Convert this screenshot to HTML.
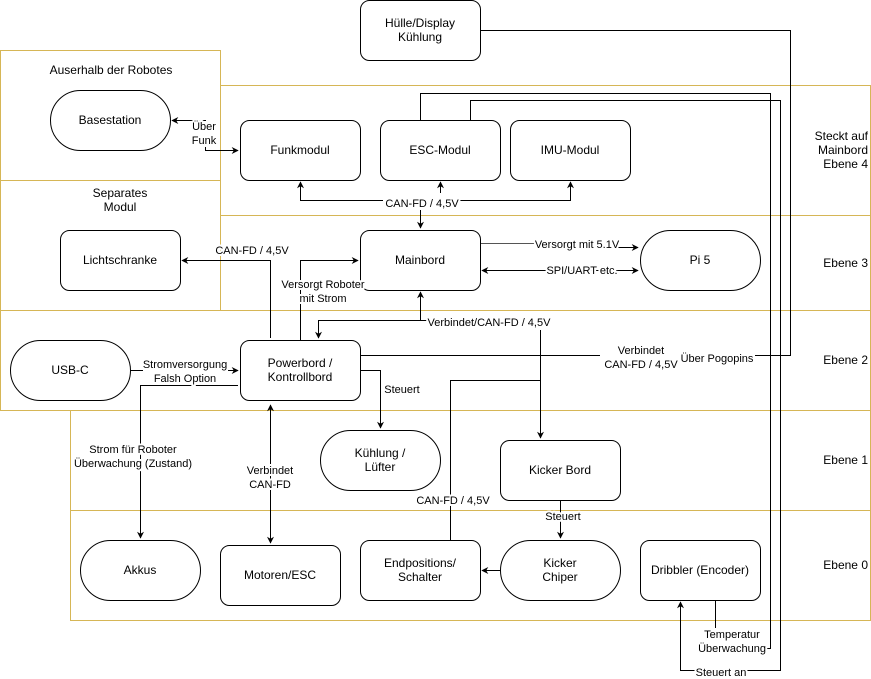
<!DOCTYPE html>
<html><head><meta charset="utf-8"><style>
html,body{margin:0;padding:0;background:#fff;}
svg{display:block;font-family:"Liberation Sans",Arial,sans-serif;}
.n{font-size:12px;text-anchor:middle;dominant-baseline:middle;fill:#000;}
.e{font-size:11px;text-anchor:middle;dominant-baseline:middle;fill:#000;stroke:#fff;stroke-width:4px;paint-order:stroke;stroke-linejoin:round;}
.r{font-size:12px;text-anchor:end;dominant-baseline:middle;fill:#000;}
</style></head><body>
<svg width="871" height="679" viewBox="0 0 871 679" xmlns="http://www.w3.org/2000/svg">
<defs>
<marker id="a" viewBox="0 0 10 10" refX="9" refY="5" markerWidth="7" markerHeight="7" orient="auto-start-reverse"><path d="M0,0 L10,5 L0,10 L3,5 z" fill="#000"/></marker>
</defs>
<g fill="none" stroke="#d6b656" stroke-width="1">
<rect x="0.5" y="50.5" width="220" height="130"/>
<rect x="0.5" y="180.5" width="220" height="130"/>
<path d="M220.5 85.5 H870.5 V620.5 H70.5 V410.5"/>
<path d="M220.5 215.5 H870.5"/>
<path d="M0.5 310.5 H870.5"/>
<path d="M0.5 310.5 V410.5 H870.5"/>
<path d="M70.5 510.5 H870.5"/>
<path d="M220.5 180 V310"/>
</g>
<text class="n" x="111" y="71">Auserhalb der Robotes</text>
<text class="n" x="120" y="194">Separates</text>
<text class="n" x="120" y="208">Modul</text>
<text class="r" x="868" y="137">Steckt auf</text>
<text class="r" x="868" y="151">Mainbord</text>
<text class="r" x="868" y="165">Ebene 4</text>
<text class="r" x="868" y="264">Ebene 3</text>
<text class="r" x="868" y="361">Ebene 2</text>
<text class="r" x="868" y="461">Ebene 1</text>
<text class="r" x="868" y="566">Ebene 0</text>

<g fill="none" stroke="#000" stroke-width="1">
<path d="M206 120.5 H172" marker-end="url(#a)"/>
<path d="M205.5 147 V150.5 H238" marker-end="url(#a)"/>
<path d="M383 200.5 H300.5 V182" marker-end="url(#a)"/>
<path d="M440.5 193 V182" marker-end="url(#a)"/>
<path d="M460 200.5 H570.5 V182" marker-end="url(#a)"/>
<path d="M420.5 210 V228" marker-end="url(#a)"/>
<path d="M270.5 338 V260.5 H182" marker-end="url(#a)"/>
<path d="M300.5 340 V260.5 H358" marker-end="url(#a)"/>
<path d="M480 243.5 H535" stroke="#555"/>
<path d="M618 247.5 H638" marker-end="url(#a)"/>
<path d="M482 270.5 H638" marker-start="url(#a)" marker-end="url(#a)"/>
<path d="M420.5 320.5 V292" marker-end="url(#a)"/>
<path d="M428 320.5 H318.5 V338" marker-end="url(#a)"/>
<path d="M540.5 330 V438" marker-end="url(#a)"/>
<path d="M360 355.5 H600"/>
<path d="M755 355.5 H790.5 V30.5 H480"/>
<path d="M420.5 120 V93.5 H770.5 V648.5 H755"/>
<path d="M470.5 120 V100.5 H780.5 V670.5 H745"/>
<path d="M695 670.5 H680.5 V602" marker-end="url(#a)"/>
<path d="M715.5 600 V628"/>
<path d="M360 370.5 H380.5 V428" marker-end="url(#a)"/>
<path d="M130 370.5 H143"/>
<path d="M228 370.5 H238" marker-end="url(#a)"/>
<path d="M238 385.5 H140.5 V538" marker-end="url(#a)"/>
<path d="M270.5 405 V543" marker-start="url(#a)" marker-end="url(#a)"/>
<path d="M450.5 540 V380.5 H540"/>
<path d="M560.5 500 V538" marker-end="url(#a)"/>
<path d="M500 570.5 H482" marker-end="url(#a)"/>
</g>

<g fill="#fff" stroke="#000" stroke-width="1">
<rect x="360.5" y="0.5" width="120" height="60" rx="9"/>
<rect x="50.5" y="90.5" width="120" height="60" rx="30"/>
<rect x="240.5" y="120.5" width="120" height="60" rx="9"/>
<rect x="380.5" y="120.5" width="120" height="60" rx="9"/>
<rect x="510.5" y="120.5" width="120" height="60" rx="9"/>
<rect x="60.5" y="230.5" width="120" height="60" rx="9"/>
<rect x="360.5" y="230.5" width="120" height="60" rx="9"/>
<rect x="640.5" y="230.5" width="120" height="60" rx="30"/>
<rect x="10.5" y="340.5" width="120" height="60" rx="30"/>
<rect x="240.5" y="340.5" width="120" height="60" rx="9"/>
<rect x="320.5" y="430.5" width="120" height="60" rx="30"/>
<rect x="500.5" y="440.5" width="120" height="60" rx="9"/>
<rect x="80.5" y="540.5" width="120" height="60" rx="30"/>
<rect x="220.5" y="545.5" width="120" height="60" rx="9"/>
<rect x="360.5" y="540.5" width="120" height="60" rx="9"/>
<rect x="500.5" y="540.5" width="120" height="60" rx="30"/>
<rect x="640.5" y="540.5" width="120" height="60" rx="9"/>
</g>
<text class="n" x="420" y="24">Hülle/Display</text>
<text class="n" x="420" y="38">Kühlung</text>
<text class="n" x="110" y="121">Basestation</text>
<text class="n" x="300" y="151">Funkmodul</text>
<text class="n" x="440" y="151">ESC-Modul</text>
<text class="n" x="570" y="151">IMU-Modul</text>
<text class="n" x="120" y="261">Lichtschranke</text>
<text class="n" x="420" y="261">Mainbord</text>
<text class="n" x="700" y="261">Pi 5</text>
<text class="n" x="70" y="371">USB-C</text>
<text class="n" x="300" y="364">Powerbord /</text>
<text class="n" x="300" y="378">Kontrollbord</text>
<text class="n" x="380" y="454">Kühlung /</text>
<text class="n" x="380" y="468">Lüfter</text>
<text class="n" x="560" y="471">Kicker Bord</text>
<text class="n" x="140" y="571">Akkus</text>
<text class="n" x="280" y="576">Motoren/ESC</text>
<text class="n" x="420" y="564">Endpositions/</text>
<text class="n" x="420" y="578">Schalter</text>
<text class="n" x="560" y="564">Kicker</text>
<text class="n" x="560" y="578">Chiper</text>
<text class="n" x="700" y="571">Dribbler (Encoder)</text>

<text class="e" x="204" y="127">Über</text>
<text class="e" x="204" y="141">Funk</text>
<text class="e" x="422" y="204">CAN-FD / 4,5V</text>
<text class="e" x="252" y="251">CAN-FD / 4,5V</text>
<text class="e" x="323" y="285">Versorgt Roboter</text>
<text class="e" x="323" y="299">mit Strom</text>
<text class="e" x="577" y="245">Versorgt mit 5.1V</text>
<text class="e" x="582" y="271">SPI/UART etc.</text>
<text class="e" x="489" y="323">Verbindet/CAN-FD / 4,5V</text>
<text class="e" x="641" y="351">Verbindet</text>
<text class="e" x="641" y="365">CAN-FD / 4,5V</text>
<text class="e" x="717" y="359">Über Pogopins</text>
<text class="e" x="402" y="390">Steuert</text>
<text class="e" x="185" y="365">Stromversorgung</text>
<text class="e" x="185" y="379">Falsh Option</text>
<text class="e" x="133" y="450">Strom für Roboter</text>
<text class="e" x="133" y="464">Überwachung (Zustand)</text>
<text class="e" x="270" y="471">Verbindet</text>
<text class="e" x="270" y="485">CAN-FD</text>
<text class="e" x="453" y="501">CAN-FD / 4,5V</text>
<text class="e" x="563" y="517">Steuert</text>
<text class="e" x="732" y="635">Temperatur</text>
<text class="e" x="732" y="649">Überwachung</text>
<text class="e" x="721" y="673">Steuert an</text>
</svg>
</body></html>
